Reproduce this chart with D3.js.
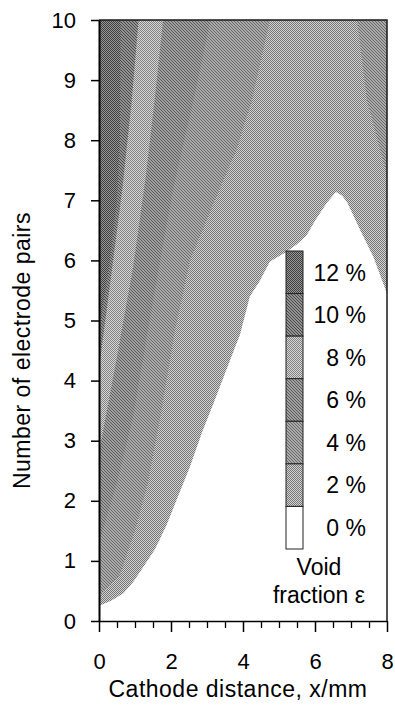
<!DOCTYPE html>
<html><head><meta charset="utf-8">
<script src="https://cdn.jsdelivr.net/npm/d3@7"></script>
<style>
html,body{margin:0;padding:0;background:#fff;}
svg{display:block;}
text{font-family:"Liberation Sans",Arial,Helvetica,sans-serif;fill:#000;}
</style></head><body>
<svg id="chart" width="395" height="711"></svg>
<script>
// Void fraction ε (%) over cathode distance and number of electrode pairs
const xDomain = [0, 8];
const yDomain = [0, 10];
const xMajorTicks = [0, 2, 4, 6, 8];
const xMinorTicks = [0.5, 1, 1.5, 2.5, 3, 3.5, 4.5, 5, 5.5, 6.5, 7, 7.5];
const yTicks = [0, 1, 2, 3, 4, 5, 6, 7, 8, 9, 10];
const bandLabels = ["0 %", "2 %", "4 %", "6 %", "8 %", "10 %", "12 %"];
const thresholds = [1, 3, 5, 7, 9, 11];

// iso-lines of the void fraction, points as [x in mm, electrode pairs]
const iso1 = [[0,0.25],[0.35,0.34],[0.68,0.46],[0.95,0.65],[1.23,0.9],[1.56,1.2],[1.88,1.6],
  [2.16,2.02],[2.53,2.57],[2.85,3.12],[3.22,3.68],[3.64,4.34],[3.92,4.77],[4.19,5.4],[4.45,5.64],
  [4.75,5.98],[5.2,6.14],[5.5,6.27],[5.77,6.42],[6.0,6.66],[6.33,6.96],[6.58,7.14],[6.75,7.08],
  [6.9,6.96],[7.25,6.51],[7.62,6.06],[8,5.45]];
const iso3 = [[0,0.4],[0.58,0.77],[1.0,1.5],[1.36,2.3],[1.69,3.35],[2.11,4.83],[2.53,6.0],
  [3.22,7.0],[3.81,7.83],[4.25,8.67],[4.75,10]];
const iso3Right = [[7.17,10],[7.44,8.67],[7.81,7.84],[8,7.42]];
const iso5 = [[0,1.3],[0.5,2.3],[0.95,3.4],[1.35,4.8],[1.7,6.0],[2.1,7.3],[2.6,8.6],[3.1,10]];
const iso7 = [[0,2.8],[0.5,4.4],[0.95,5.9],[1.3,7.4],[1.55,8.7],[1.78,10]];
const iso9 = [[0,4.2],[0.35,5.8],[0.65,7.2],[0.9,8.6],[1.1,10]];
const iso11 = [[0,4.8],[0.28,5.9],[0.5,7.0],[0.58,8.0],[0.6,10]];

const topLeft = [xDomain[0], yDomain[1]];
const topRight = [xDomain[1], yDomain[1]];

// each region holds values above its threshold; drawn low to high
const regions = [
  { band: 1, pts: iso1.concat([topRight, topLeft]) },
  { band: 2, pts: iso3.concat([topLeft]) },
  { band: 2, pts: iso3Right.concat([topRight]) },
  { band: 3, pts: iso5.concat([topLeft]) },
  { band: 4, pts: iso7.concat([topLeft]) },
  { band: 5, pts: iso9.concat([topLeft]) },
  { band: 6, pts: iso11.concat([topLeft]) }
];

// halftone fills per band
const fills = [
  null,
  { kind: "dots",  dark: "#747474", light: "#d4d4d4" },
  { kind: "hatch", dark: "#686868", light: "#aaaaaa" },
  { kind: "hatch", dark: "#5a5a5a", light: "#a0a0a0" },
  { kind: "dots",  dark: "#808080", light: "#d8d8d8" },
  { kind: "hatch", dark: "#474747", light: "#939393" },
  { kind: "dots",  dark: "#3e3e3e", light: "#989898" }
];

const svg = d3.select("#chart");
const margin = { left: 99, right: 8, top: 20, bottom: 90 };
const W = 395, H = 711;
const x = d3.scaleLinear().domain(xDomain).range([margin.left, W - margin.right]);
const y = d3.scaleLinear().domain(yDomain).range([H - margin.bottom, margin.top]);

const defs = svg.append("defs");
fills.forEach((f, i) => {
  if (!f) return;
  const n = f.kind === "dots" ? 2 : 3;
  const p = defs.append("pattern").attr("id", "band" + i)
    .attr("patternUnits", "userSpaceOnUse").attr("x", 0).attr("y", 0)
    .attr("width", n).attr("height", n);
  p.append("rect").attr("width", n).attr("height", n).attr("fill", f.light)
    .attr("shape-rendering", "crispEdges");
  d3.range(n).forEach(k => {
    p.append("rect").attr("x", k).attr("y", k).attr("width", 1).attr("height", 1)
      .attr("fill", f.dark).attr("shape-rendering", "crispEdges");
  });
});
const fillOf = i => fills[i] ? `url(#band${i})` : "#fff";

defs.append("clipPath").attr("id", "plotClip").append("rect")
  .attr("x", x(xDomain[0])).attr("y", y(yDomain[1]))
  .attr("width", x(xDomain[1]) - x(xDomain[0])).attr("height", y(yDomain[0]) - y(yDomain[1]));

const plot = svg.append("g").attr("clip-path", "url(#plotClip)");
plot.append("rect")
  .attr("x", x(xDomain[0])).attr("y", y(yDomain[1]))
  .attr("width", x(xDomain[1]) - x(xDomain[0])).attr("height", y(yDomain[0]) - y(yDomain[1]))
  .attr("fill", fillOf(0));

const line = d3.line().x(d => x(d[0])).y(d => y(d[1])).curve(d3.curveLinearClosed);
plot.selectAll("path.region").data(regions).join("path")
  .attr("class", "region")
  .attr("d", d => line(d.pts))
  .attr("fill", d => fillOf(d.band))
  .attr("stroke", "none");

// frame
svg.append("path")
  .attr("d", `M${x(0)},${y(10)}H${x(8)}V${y(0)}`)
  .attr("fill", "none").attr("stroke", "#1a1a1a").attr("stroke-width", 1.5);

// axes
const fontSize = 23;
const yAxis = svg.append("g").attr("transform", `translate(${x(0)},0)`)
  .call(d3.axisLeft(y).tickValues(yTicks).tickSize(8).tickPadding(15).tickSizeOuter(0));
yAxis.select(".domain").attr("stroke", "#000").attr("stroke-width", 2);
yAxis.selectAll(".tick line").attr("stroke", "#000").attr("stroke-width", 1.5);
yAxis.selectAll("text").style("font-size", "22px").attr("fill", "#000");

const xAxis = svg.append("g").attr("transform", `translate(0,${y(0)})`)
  .call(d3.axisBottom(x).tickValues(xMajorTicks).tickSize(11).tickPadding(21).tickSizeOuter(0));
xAxis.select(".domain").attr("stroke", "#000").attr("stroke-width", 1.5);
xAxis.selectAll(".tick line").attr("stroke", "#000").attr("stroke-width", 1.5);
xAxis.selectAll("text").style("font-size", "22px").attr("fill", "#000");

const xMinor = svg.append("g").attr("transform", `translate(0,${y(0)})`)
  .call(d3.axisBottom(x).tickValues(xMinorTicks).tickSize(7).tickFormat(""));
xMinor.select(".domain").remove();
xMinor.selectAll(".tick line").attr("stroke", "#000").attr("stroke-width", 1.3);

// axis titles
svg.append("text")
  .attr("x", 238).attr("y", 697)
  .attr("text-anchor", "middle")
  .style("font-size", fontSize + "px").style("letter-spacing", "0.5px")
  .text("Cathode distance, x/mm");
svg.append("text")
  .attr("transform", `translate(30,${(y(2) + y(7)) / 2}) rotate(-90)`)
  .attr("text-anchor", "middle")
  .style("font-size", fontSize + "px").style("letter-spacing", "0.5px")
  .text("Number of electrode pairs");

// legend
const legendBands = d3.range(fills.length - 1, -1, -1);
const ly = d3.scaleBand().domain(legendBands).range([251, 549]);
const legend = svg.append("g");
legend.selectAll("rect").data(legendBands).join("rect")
  .attr("x", 286).attr("y", d => ly(d)).attr("width", 17).attr("height", ly.bandwidth())
  .attr("fill", d => fillOf(d))
  .attr("stroke", "#222").attr("stroke-width", 1);
legend.selectAll("text.lab").data(legendBands).join("text")
  .attr("class", "lab")
  .attr("x", 366).attr("y", d => ly(d) + ly.bandwidth() / 2)
  .attr("dy", "0.36em").attr("text-anchor", "end")
  .style("font-size", fontSize + "px")
  .text(d => bandLabels[d]);
legend.append("text").attr("x", 319).attr("y", 575).attr("text-anchor", "middle")
  .style("font-size", fontSize + "px").text("Void");
legend.append("text").attr("x", 319).attr("y", 603).attr("text-anchor", "middle")
  .style("font-size", fontSize + "px").text("fraction ε");
</script>
</body></html>
